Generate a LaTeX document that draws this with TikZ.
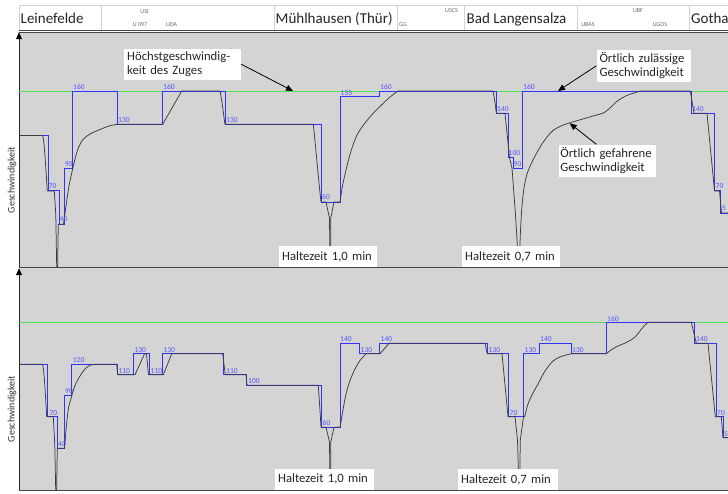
\documentclass[tikz,border=0pt]{standalone}
\usepackage{fontspec}
\setmainfont{Carlito}
\usetikzlibrary{arrows.meta}
\definecolor{panelgray}{RGB}{212,212,212}
\definecolor{vblue}{RGB}{50,50,255}
\definecolor{lblue}{RGB}{85,85,255}
\definecolor{vgreen}{RGB}{80,225,80}
\definecolor{actcol}{RGB}{60,60,60}
\definecolor{cellline}{RGB}{210,210,210}
\definecolor{framecol}{RGB}{70,70,70}
\begin{document}
\begin{tikzpicture}[x=1pt,y=-1pt,
 allowed/.style={vblue,line width=0.85pt},
 actual/.style={actcol,line width=0.75pt,line join=round},
 maxv/.style={vgreen,line width=0.8pt},
 vlab/.style={lblue,font=\fontsize{7.5}{8}\selectfont,inner sep=0pt,anchor=west},
 hdr/.style={font=\fontsize{15}{16}\selectfont,inner sep=0pt,anchor=base west,text=black!85},
 code/.style={font=\fontsize{6}{7}\selectfont,inner sep=0pt,text=black!60},
 note/.style={fill=white,inner sep=3pt,align=left,font=\fontsize{12.7}{14.3}\selectfont,anchor=north west,text=black!85},
 annot/.style={black,line width=0.8pt,-{Triangle[length=7pt,width=6pt]}},
 axlab/.style={rotate=90,font=\fontsize{10}{11}\selectfont,text=black!80,inner sep=0pt},
]
\useasboundingbox (0,0) rectangle (728,493);
\fill[white] (0,0) rectangle (728,493);
% header cells
\draw[cellline,line width=0.8pt] (19,30) -- (19,5.7) -- (728,5.7);
\foreach \cx in {101,274,397,464,577,689} \draw[cellline,line width=0.8pt] (\cx,5.7) -- (\cx,30);
\node[hdr] (hLei) at (20.5,23.5) {Leinefelde};
\node[hdr] (hMue) at (275.5,23.5) {Mühlhausen (Thür)};
\node[hdr] (hBad) at (466.5,23.5) {Bad Langensalza};
\node[hdr] (hGot) at (691,23.5) {Gotha};
\node[code] (cUSI) at (144.5,11.3) {USI};
\node[code] (cU097) at (140,25) {U 097};
\node[code] (cUDA) at (171.7,25) {UDA};
\node[code] (cGG) at (403,25) {GG};
\node[code] (cUSCS) at (451.5,11) {USCS};
\node[code] (cUBAS) at (588,25) {UBAS};
\node[code] (cUBF) at (638,11) {UBF};
\node[code] (cUGOS) at (660,25) {UGOS};
% panels
\fill[panelgray] (19,32.5) rectangle (728,267);
\fill[panelgray] (19,267) rectangle (728,490);
\draw[framecol,line width=0.8pt] (19,30) -- (728,30);
\draw[framecol,line width=0.8pt] (19,32.6) -- (728,32.6);
\draw[framecol,line width=0.9pt] (19,267) -- (728,267);
\draw[framecol,line width=0.9pt] (19,490) -- (728,490);
\draw[black!85,line width=0.9pt] (19,36) -- (19,267);
\draw[black!85,line width=0.9pt] (19,272) -- (19,490);
\fill[black] (16,39) -- (19,32.2) -- (22,39) -- cycle;
\fill[black] (16,275) -- (19,268.2) -- (22,275) -- cycle;
\node[axlab] (yl1) at (12,180) {Geschwindigkeit};
\node[axlab] (yl2) at (12,409) {Geschwindigkeit};
% ---------------- top panel
\draw[maxv] (19,91) -- (728,91);
\draw[allowed] (19,135.4) -- (48.3,135.4) -- (48.3,190.9) -- (59.3,190.9) -- (59.3,224.2) -- (64.3,224.2) -- (64.3,168.7) -- (72.7,168.7) -- (72.7,91) -- (117.3,91) -- (117.3,124.3) -- (162.7,124.3) -- (162.7,91) -- (225,91) -- (225,124.3) -- (321,124.3) -- (321,202) -- (340,202) -- (340,96.55) -- (379.3,96.55) -- (379.3,91) -- (496.3,91) -- (496.3,113.2) -- (508,113.2) -- (508,157.6) -- (513,157.6) -- (513,168.7) -- (522.3,168.7) -- (522.3,91) -- (691.3,91) -- (691.3,113.2) -- (714.7,113.2) -- (714.7,190.9) -- (720.7,190.9) -- (720.7,213.1) -- (728,213.1);
\draw[actual] (19,135.4) -- (42.7,135.4) .. controls (44.5,142) and (46.2,175) .. (47.3,190.9) -- (54.3,190.9) -- (55.8,215) -- (56.7,267);
\draw[actual] (57.6,267) -- (58.3,224.2) -- (63.5,224.2) -- plot[smooth] coordinates {(63.5,224.2) (66,206) (69,186) (72.7,168.7) (75.5,157) (78.3,148) (83,139.5) (90,134) (100,129.5) (109,126) (117.3,124.3)} -- (162.7,124.3) -- (181.7,91) -- (220,91) .. controls (222,100) and (223.5,115) .. (225,124.3) -- (313.3,124.3) .. controls (316,150) and (319,185) .. (321,202) -- (326,202) -- (329.5,218) -- (330,267);
\draw[actual] (330.6,267) -- (330.8,218) -- (334,202) -- (340,202) -- plot[smooth] coordinates {(340,202) (342.5,186) (346,170) (351,151) (357,135) (365,123) (373,113.5) (382,104.5) (390,97) (398,91)} -- (493,91) .. controls (494.5,98) and (495.5,106) .. (496.3,113.2) -- (505,113.2) -- (509.5,157.6) -- (512,168) -- (515.5,215) -- (518.7,267);
\draw[actual] (519.4,267) -- plot[smooth] coordinates {(519.4,267) (520.3,235) (521.7,210) (523.7,190) (527,174) (533,160) (541,145.5) (547,137) (553,130.5) (561,126) (570,122.8) (581,119.5) (593,116) (604,112.7) (611,107) (618,100.5) (628,95) (640.7,91)} -- (690.3,91) -- (694,113.2) -- (707,113.2) -- (714.5,190.9) -- (719.5,190.9) -- (721.5,213.1) -- (728,213.1);
% labels top
\node[vlab] (a1) at (48.6,186.5) {70};
\node[vlab] (a2) at (59.5,219) {40};
\node[vlab] (a3) at (64.7,164.5) {90};
\node[vlab] (a4) at (73,87) {160};
\node[vlab] (a5) at (118,120) {130};
\node[vlab] (a6) at (163,87) {160};
\node[vlab] (a7) at (226,120) {130};
\node[vlab] (a8) at (322,197) {60};
\node[vlab] (a9) at (340.5,93) {155};
\node[vlab] (a10) at (380,87) {160};
\node[vlab] (a11) at (497,109) {140};
\node[vlab] (a12) at (508.5,153.5) {100};
\node[vlab] (a13) at (513.5,164.5) {90};
\node[vlab] (a14) at (523,87) {160};
\node[vlab] (a15) at (692,109) {140};
\node[vlab] (a16) at (715.5,186.5) {70};
\node[vlab] (a17) at (721.8,208.5) {5};
% ---------------- bottom panel
\draw[maxv] (19,322.3) -- (728,322.3);
\draw[allowed] (19,364.3) -- (47.3,364.3) -- (47.3,416.8) -- (57.7,416.8) -- (57.7,448.3) -- (64,448.3) -- (64,395.8) -- (71.7,395.8) -- (71.7,364.3) -- (117.3,364.3) -- (117.3,374.8) -- (133.3,374.8) -- (133.3,353.8) -- (149.3,353.8) -- (149.3,374.8) -- (162.3,374.8) -- (162.3,353.8) -- (223.3,353.8) -- (223.3,374.8) -- (246.7,374.8) -- (246.7,385.3) -- (321.7,385.3) -- (321.7,427.3) -- (340,427.3) -- (340,343.3) -- (359.3,343.3) -- (359.3,353.8) -- (379.3,353.8) -- (379.3,343.3) -- (487.3,343.3) -- (487.3,353.8) -- (508.7,353.8) -- (508.7,416.8) -- (523.7,416.8) -- (523.7,353.8) -- (539.7,353.8) -- (539.7,343.3) -- (571.3,343.3) -- (571.3,353.8) -- (606.3,353.8) -- (606.3,322.3) -- (694.7,322.3) -- (694.7,343.3) -- (716.3,343.3) -- (716.3,416.8) -- (723,416.8) -- (723,437.8) -- (728,437.8);
\draw[actual] (19,364.3) -- (42.7,364.3) .. controls (44.3,372) and (45.7,400) .. (46.7,416.8) -- (53.3,416.8) -- (54.8,445) -- (55.7,490);
\draw[actual] (56.6,490) -- (57.3,448.3) -- (64.5,448.3) -- plot[smooth] coordinates {(64.5,448.3) (66.5,425) (68.5,408) (71.7,396) (75,385.5) (80,376) (85,369) (90,365.3) (96,364.3)} -- (116.7,364.3) -- (117.7,374.8) -- (135,374.8) -- (144.5,353.8) -- (146.5,353.8) -- (148.5,374.8) -- (163.3,374.8) -- (171.7,353.8) -- (222.7,353.8) -- (225.3,374.8) -- (246,374.8) -- (247,385.3) -- (318.3,385.3) .. controls (319.3,400) and (320.3,415) .. (321,427.3) -- (326,427.3) -- (329.5,442) -- (330,490);
\draw[actual] (330.6,490) -- (330.8,442) -- (334,427.3) -- (340,427.3) -- plot[smooth] coordinates {(340,427.3) (343,410) (346,394) (350,380.5) (355,369) (360,360.5) (366,353.8)} -- (380,353.8) -- (389,343.3) -- (485,343.3) -- (487.3,353.8) -- (502,353.8) .. controls (504,375) and (506.5,400) .. (508,416.8) -- (515,416.8) -- (517.5,440) -- (519,490);
\draw[actual] (519.6,490) -- (520.3,440) -- (523.5,416.8) -- (524.7,416.8) -- plot[smooth] coordinates {(524.7,416.8) (528,404) (533,393) (538,384) (545,371) (553,361) (560,357) (566,355) (571.3,353.8)} -- (606.3,353.8) -- plot[smooth] coordinates {(606.3,353.8) (611,350) (617,346.5) (624,343.5) (631,340) (636,336) (640,331) (644,326) (648,322.3)} -- (691.3,322.3) -- (696.3,343.3) -- (708,343.3) -- (715.3,416.8) -- (721.3,416.8) -- (723,437.8) -- (728,437.8);
% labels bottom
\node[vlab] (b1) at (49.3,413) {70};
\node[vlab] (b2) at (58,444) {40};
\node[vlab] (b3) at (65,391.5) {90};
\node[vlab] (b4) at (72.7,360) {120};
\node[vlab] (b5) at (118.3,371) {110};
\node[vlab] (b6) at (134.3,350) {130};
\node[vlab] (b7) at (150.5,371) {110};
\node[vlab] (b8) at (163.3,350) {130};
\node[vlab] (b9) at (226,371) {110};
\node[vlab] (b10) at (248,381.5) {100};
\node[vlab] (b11) at (322.5,423) {60};
\node[vlab] (b12) at (340,339.5) {140};
\node[vlab] (b13) at (360.5,350) {130};
\node[vlab] (b14) at (380.5,339.5) {140};
\node[vlab] (b15) at (488.5,350) {130};
\node[vlab] (b16) at (509.5,413) {70};
\node[vlab] (b17) at (524.5,350) {130};
\node[vlab] (b18) at (540,339.5) {140};
\node[vlab] (b19) at (572,350) {130};
\node[vlab] (b20) at (607,318.5) {160};
\node[vlab] (b21) at (696,339.5) {140};
\node[vlab] (b22) at (717,413) {70};
\node[vlab] (b23) at (724,434) {5};
% notes
\node[note,text width=110.7pt] (n1) at (124,48.3) {Höchstgeschwindig-\\keit des Zuges};
\node[note,text width=88pt] (n2) at (596.3,49.3) {Örtlich zulässige\\Geschwindigkeit};
\node[note,text width=94pt,inner xsep=1.2pt] (n3) at (559,144.3) {Örtlich gefahrene\\Geschwindigkeit};
\node[note,text width=92pt,minimum height=21pt] (h1) at (279,246) {Haltezeit 1,0 min};
\node[note,text width=91.7pt,minimum height=21pt] (h2) at (462,246) {Haltezeit 0,7 min};
\node[note,text width=92.3pt,minimum height=21.7pt] (h3) at (275,468.3) {Haltezeit 1,0 min};
\node[note,text width=93.3pt,minimum height=21pt] (h4) at (458,469) {Haltezeit 0,7 min};
\coordinate (t1) at (293,91);
\coordinate (t2) at (558,91);
\coordinate (t3) at (569.7,123.3);
\draw[annot] (n1.east) -- (t1);
\draw[annot] (n2.west) -- (t2);
\draw[annot] ([xshift=-11pt]n3.north) -- (t3);
\end{tikzpicture}
\end{document}
